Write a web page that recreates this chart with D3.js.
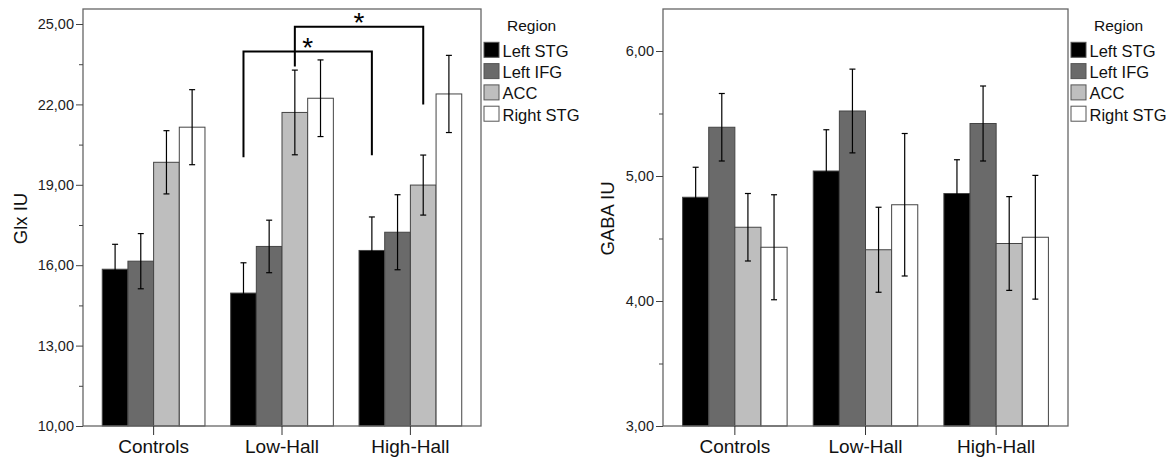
<!DOCTYPE html>
<html>
<head>
<meta charset="utf-8">
<script src="https://cdn.jsdelivr.net/npm/d3@7"></script>
<style>
  body { margin: 0; background: #fff; }
  svg, svg text { font-family: 'Liberation Sans', Arial, sans-serif; }
</style>
</head>
<body>
<svg id="chart" width="1171" height="460"></svg>
<script>
// Categories
const groups = ['Controls', 'Low-Hall', 'High-Hall'];
const regions = ['Left STG', 'Left IFG', 'ACC', 'Right STG'];
const regionColors = ['#000000', '#6a6a6a', '#bebebe', '#ffffff'];

// Glx means (rows = groups, cols = regions) and error bar half-widths
const glxMeans = [
  [15.85, 16.15, 19.84, 21.15],
  [14.96, 16.70, 21.70, 22.23],
  [16.55, 17.23, 18.99, 22.39],
];
const glxErrors = [
  [0.93, 1.03, 1.18, 1.40],
  [1.13, 0.98, 1.58, 1.43],
  [1.25, 1.40, 1.12, 1.44],
];

// GABA means and error bar half-widths
const gabaMeans = [
  [4.83, 5.39, 4.59, 4.43],
  [5.04, 5.52, 4.41, 4.77],
  [4.86, 5.42, 4.46, 4.51],
];
const gabaErrors = [
  [0.24, 0.27, 0.27, 0.42],
  [0.33, 0.335, 0.34, 0.57],
  [0.27, 0.30, 0.375, 0.495],
];

// Tick values
const glxTicks = [10, 13, 16, 19, 22, 25];
const glxMinorTicks = [11.5, 14.5, 17.5, 20.5, 23.5];
const gabaTicks = [3, 4, 5, 6];
const gabaMinorTicks = [3.5, 4.5, 5.5];

// Significance brackets on the Glx panel (values in Glx units)
const glxBrackets = [
  { from: ['Low-Hall', 'Left STG'], to: ['High-Hall', 'Left STG'], top: 23.97, fromEnd: 20.03, toEnd: 20.1, label: '*' },
  { from: ['Low-Hall', 'ACC'], to: ['High-Hall', 'ACC'], top: 24.9, fromEnd: 23.41, toEnd: 22.0, label: '*' },
];

const svg = d3.select('#chart');
const fmt = d3.formatLocale({ decimal: ',', thousands: '.', grouping: [3], currency: ['', ''] }).format('.2f');

const drawPanel = (opts) => {
  const { left, right, top, bottom, domain, means, errors, ticks, minorTicks, title, titleX } = opts;
  const g = svg.append('g');

  // Scales
  const x0 = d3.scaleBand().domain(groups).range([left, right]).paddingInner(0.2).paddingOuter(0.15);
  const x1 = d3.scaleBand().domain(regions).range([0, x0.bandwidth()]);
  const y = d3.scaleLinear().domain(domain).range([bottom, top]);
  const color = d3.scaleOrdinal().domain(regions).range(regionColors);

  // Flatten into bar records
  const bars = [];
  groups.forEach((grp, i) => {
    regions.forEach((reg, j) => {
      bars.push({ group: grp, region: reg, mean: means[i][j], err: errors[i][j] });
    });
  });

  // Bars
  g.selectAll('.bar')
    .data(bars)
    .enter()
    .append('rect')
    .attr('class', 'bar')
    .attr('x', (d) => x0(d.group) + x1(d.region))
    .attr('y', (d) => y(d.mean))
    .attr('width', x1.bandwidth())
    .attr('height', (d) => bottom - y(d.mean))
    .attr('fill', (d) => color(d.region))
    .attr('stroke', '#444')
    .attr('stroke-width', 1);

  // Error bars
  const cx = (d) => x0(d.group) + x1(d.region) + x1.bandwidth() / 2;
  const eb = g.selectAll('.err').data(bars).enter().append('g').attr('class', 'err')
    .attr('stroke', '#000').attr('stroke-width', 1.2);
  eb.append('line')
    .attr('x1', cx).attr('x2', cx)
    .attr('y1', (d) => y(d.mean + d.err)).attr('y2', (d) => y(d.mean - d.err));
  eb.append('line')
    .attr('x1', (d) => cx(d) - 3).attr('x2', (d) => cx(d) + 3)
    .attr('y1', (d) => y(d.mean + d.err)).attr('y2', (d) => y(d.mean + d.err));
  eb.append('line')
    .attr('x1', (d) => cx(d) - 3).attr('x2', (d) => cx(d) + 3)
    .attr('y1', (d) => y(d.mean - d.err)).attr('y2', (d) => y(d.mean - d.err));

  // Frame
  g.append('rect')
    .attr('x', left).attr('y', top)
    .attr('width', right - left).attr('height', bottom - top)
    .attr('fill', 'none').attr('stroke', '#666').attr('stroke-width', 1.3);

  // Y axis (major + minor ticks)
  const yAxis = g.append('g').attr('transform', `translate(${left},0)`)
    .call(d3.axisLeft(y).tickValues(ticks).tickFormat(fmt).tickSize(7).tickPadding(2).tickSizeOuter(0))
    .attr('font-family', null)
    .attr('font-size', null);
  yAxis.select('.domain').remove();
  yAxis.selectAll('line').attr('stroke', '#444');
  yAxis.selectAll('text').attr('font-size', 14.5).attr('fill', '#222');

  const yMinor = g.append('g').attr('transform', `translate(${left},0)`)
    .call(d3.axisLeft(y).tickValues(minorTicks).tickFormat('').tickSize(4).tickSizeOuter(0));
  yMinor.select('.domain').remove();
  yMinor.selectAll('line').attr('stroke', '#444');

  // X axis
  const xAxis = g.append('g').attr('transform', `translate(0,${bottom})`)
    .call(d3.axisBottom(x0).tickSize(9).tickPadding(5).tickSizeOuter(0))
    .attr('font-family', null)
    .attr('font-size', null);
  xAxis.select('.domain').remove();
  xAxis.selectAll('line').attr('stroke', '#333');
  xAxis.selectAll('text').attr('font-size', 19).attr('fill', '#111');

  // Y axis title
  g.append('text')
    .attr('transform', `translate(${titleX},${(top + bottom) / 2 + 1}) rotate(-90)`)
    .attr('text-anchor', 'middle')
    .attr('font-size', 18.5)
    .attr('fill', '#111')
    .text(title);

  // Legend
  const lg = g.append('g').attr('transform', `translate(${right + 3},0)`);
  lg.append('text').attr('x', 23).attr('y', 31).attr('font-size', 15.5).attr('fill', '#111').text('Region');
  const rows = lg.selectAll('.lrow').data(regions).enter().append('g')
    .attr('transform', (d, i) => `translate(0,${42.3 + i * 21.3})`);
  rows.append('rect')
    .attr('width', 15).attr('height', 15)
    .attr('fill', (d) => color(d))
    .attr('stroke', '#555');
  rows.append('text')
    .attr('x', 18.5).attr('y', 14.5)
    .attr('font-size', 16.5).attr('fill', '#111')
    .text((d) => d);

  return { g, x0, x1, y };
};

// Left panel: Glx
const glx = drawPanel({
  left: 83, right: 481, top: 9, bottom: 426,
  domain: [10, 25.56], means: glxMeans, errors: glxErrors,
  ticks: glxTicks, minorTicks: glxMinorTicks, title: 'Glx IU', titleX: 26.5,
});

// Right panel: GABA
drawPanel({
  left: 663, right: 1068, top: 9, bottom: 426,
  domain: [3, 6.336], means: gabaMeans, errors: gabaErrors,
  ticks: gabaTicks, minorTicks: gabaMinorTicks, title: 'GABA IU', titleX: 614,
});

// Significance brackets
const barCenter = ([grp, reg]) => glx.x0(grp) + glx.x1(reg) + glx.x1.bandwidth() / 2;
glxBrackets.forEach((b) => {
  const xa = barCenter(b.from);
  const xb = barCenter(b.to);
  const line = d3.line();
  glx.g.append('path')
    .attr('d', line([[xa, glx.y(b.fromEnd)], [xa, glx.y(b.top)], [xb, glx.y(b.top)], [xb, glx.y(b.toEnd)]]))
    .attr('fill', 'none')
    .attr('stroke', '#000')
    .attr('stroke-width', 2);
  glx.g.append('text')
    .attr('x', (xa + xb) / 2)
    .attr('y', glx.y(b.top) + 5)
    .attr('text-anchor', 'middle')
    .attr('font-size', 28)
    .attr('fill', '#000')
    .text(b.label);
});
</script>
</body>
</html>
